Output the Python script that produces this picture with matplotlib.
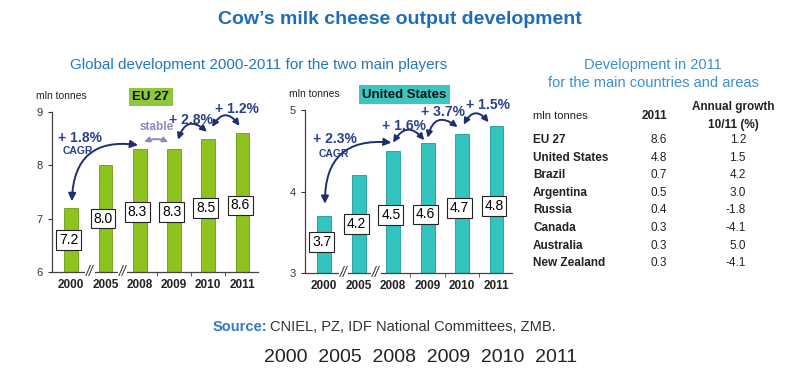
import matplotlib
matplotlib.use("Agg")
import matplotlib.pyplot as plt

plt.rcParams["font.family"] = ["Liberation Sans", "DejaVu Sans"]

# Daten
years = ["2000", "2005", "2008", "2009", "2010", "2011"]
eu_values = [7.2, 8.0, 8.3, 8.3, 8.5, 8.6]
us_values = [3.7, 4.2, 4.5, 4.6, 4.7, 4.8]

# Lage der Wertkästchen (Layout, keine Daten)
eu_label_y = [6.6, 7.0, 7.12, 7.12, 7.2, 7.25]
us_label_y = [3.38, 3.6, 3.71, 3.72, 3.8, 3.82]

table_countries = ["EU 27", "United States", "Brazil", "Argentina",
                   "Russia", "Canada", "Australia", "New Zealand"]
table_2011 = [8.6, 4.8, 0.7, 0.5, 0.4, 0.3, 0.3, 0.3]
table_growth = [1.2, 1.5, 4.2, 3.0, -1.8, -4.1, 5.0, -4.1]

W, H = 800, 379
NAVY = "#1f2f6e"
TEXT_BLUE = "#2b3f8f"
LILAC = "#8d88c4"


def px(x, y):
    return x / W, 1 - y / H


def draw_panel(ax, values, label_y, ylim, color, edge, name, name_color,
               arrows, notes):
    x = list(range(len(values)))
    ax.bar(x, values, width=0.4, color=color, edgecolor=edge, linewidth=0.6,
           zorder=2)
    ax.set_ylim(*ylim)
    ax.set_xlim(-0.56, 5.45)
    ax.set_yticks(range(ylim[0], ylim[1] + 1))
    ax.set_xticks(x)
    ax.set_xticklabels(years, fontsize=8.5, fontweight="bold", color="#222")
    ax.tick_params(axis="x", length=0, pad=5)
    ax.tick_params(axis="y", labelsize=8, length=3, colors="#333")
    ax.set_xticks([2.5, 3.5, 4.5], minor=True)
    ax.tick_params(axis="x", which="minor", length=3, color="#444")
    for s in ["top", "right"]:
        ax.spines[s].set_visible(False)
    for s in ["left", "bottom"]:
        ax.spines[s].set_color("#444")
        ax.spines[s].set_linewidth(0.9)
    for xb in [0.55, 1.5]:
        ax.text(xb, ylim[0], "//", ha="center", va="center", fontsize=10,
                style="italic", color="#333", clip_on=False, zorder=6,
                bbox=dict(boxstyle="square,pad=0.05", fc="white", ec="none"))
    for xi, v, ly in zip(x, values, label_y):
        ax.text(xi - 0.07, ly, f"{v:.1f}", ha="center", va="center",
                fontsize=10, zorder=4,
                bbox=dict(boxstyle="square,pad=0.2", fc="white",
                          ec="#222", lw=0.8))
    ax.text(0.045, 1.1, "mln tonnes", transform=ax.transAxes, ha="center",
            va="center", fontsize=7.5, color="#222")
    ax.text(0.48, 1.094, name, transform=ax.transAxes, ha="center",
            va="center", fontsize=9.5, fontweight="bold", color="#111",
            bbox=dict(boxstyle="square,pad=0.25", fc=name_color, ec="none"))
    for (x1, y1, x2, y2, rad, c, hw) in arrows:
        ax.annotate("", xy=(x2, y2), xytext=(x1, y1),
                    arrowprops=dict(
                        arrowstyle=f"<|-|>,head_width={hw},head_length={hw * 2}",
                        connectionstyle=f"arc3,rad={rad}",
                        color=c, lw=1.4, shrinkA=0, shrinkB=0),
                    annotation_clip=False, zorder=5)
    for (tx, ty, t, fs, c) in notes:
        ax.text(tx, ty, t, ha="center", va="center", fontsize=fs,
                fontweight="bold", color=c, clip_on=False, zorder=6)


fig = plt.figure(figsize=(W / 100, H / 100), dpi=100)

fig.text(*px(400, 20), "Cow\u2019s milk cheese output development",
         ha="center", va="center", fontsize=14, fontweight="bold",
         color="#1f6cb8")
fig.text(*px(259, 65), "Global development 2000-2011 for the two main players",
         ha="center", va="center", fontsize=11, color="#2278c0")

# EU 27
ax1 = fig.add_axes([52 / W, 1 - 272 / H, 206 / W, 160 / H])
draw_panel(
    ax1, eu_values, eu_label_y, (6, 9), "#8dc21f", "#6f9a10", "EU 27",
    "#8dc63f",
    arrows=[
        (1.95, 8.38, 0.02, 7.33, 0.55, NAVY, 0.22),
        (2.13, 8.44, 2.83, 8.44, -0.2, LILAC, 0.15),
        (3.12, 8.48, 3.96, 8.63, -0.75, NAVY, 0.18),
        (4.11, 8.72, 4.91, 8.74, -0.75, NAVY, 0.18),
    ],
    notes=[
        (0.25, 8.52, "+ 1.8%", 10, TEXT_BLUE),
        (0.2, 8.27, "CAGR", 7.5, TEXT_BLUE),
        (2.5, 8.72, "stable", 8.5, LILAC),
        (3.5, 8.85, "+ 2.8%", 10, TEXT_BLUE),
        (4.85, 9.06, "+ 1.2%", 10, TEXT_BLUE),
    ],
)

# United States
ax2 = fig.add_axes([305 / W, 1 - 273 / H, 207 / W, 163 / H])
draw_panel(
    ax2, us_values, us_label_y, (3, 5), "#33c4bf", "#1d9994",
    "United States", "#3cc6c0",
    arrows=[
        (1.95, 4.6, 0.02, 3.85, 0.55, NAVY, 0.22),
        (2.9, 4.63, 2.0, 4.6, 0.7, NAVY, 0.18),
        (3.0, 4.66, 3.87, 4.79, -0.75, NAVY, 0.18),
        (4.05, 4.82, 4.77, 4.85, -0.75, NAVY, 0.18),
    ],
    notes=[
        (0.3, 4.64, "+ 2.3%", 10, TEXT_BLUE),
        (0.27, 4.46, "CAGR", 7.5, TEXT_BLUE),
        (2.3, 4.8, "+ 1.6%", 10, TEXT_BLUE),
        (3.45, 4.98, "+ 3.7%", 10, TEXT_BLUE),
        (4.75, 5.06, "+ 1.5%", 10, TEXT_BLUE),
    ],
)

# Tabelle rechts
fig.text(*px(653, 65), "Development in 2011", ha="center", va="center",
         fontsize=10.5, color="#3a8fd0")
fig.text(*px(653, 83), "for the main countries and areas", ha="center",
         va="center", fontsize=10.5, color="#3a8fd0")
fig.text(*px(533, 116), "mln tonnes", ha="left", va="center", fontsize=8,
         color="#222")
fig.text(*px(667, 116), "2011", ha="right", va="center", fontsize=8.5,
         fontweight="bold", color="#222")
fig.text(*px(733, 107), "Annual growth", ha="center", va="center",
         fontsize=8.5, fontweight="bold", color="#222")
fig.text(*px(733, 125), "10/11 (%)", ha="center", va="center",
         fontsize=8.5, fontweight="bold", color="#222")
for i, (c, v, g) in enumerate(zip(table_countries, table_2011, table_growth)):
    y = 140 + i * 17.6
    fig.text(*px(533, y), c, ha="left", va="center", fontsize=8.5,
             fontweight="bold", color="#222")
    fig.text(*px(667, y), f"{v:.1f}", ha="right", va="center", fontsize=8.5,
             color="#222")
    fig.text(*px(746, y), f"{g:.1f}", ha="right", va="center", fontsize=8.5,
             color="#222")

# Quelle
fig.text(*px(267, 327), "Source:", ha="right", va="center", fontsize=10.5,
         fontweight="bold", color="#2f7ac0")
fig.text(*px(270, 327), "CNIEL, PZ, IDF National Committees, ZMB.",
         ha="left", va="center", fontsize=10.5, color="#333")
fig.text(*px(421, 357), "  ".join(years), ha="center", va="center",
         fontsize=14, color="#222")

fig.savefig("out.png", dpi=100)
